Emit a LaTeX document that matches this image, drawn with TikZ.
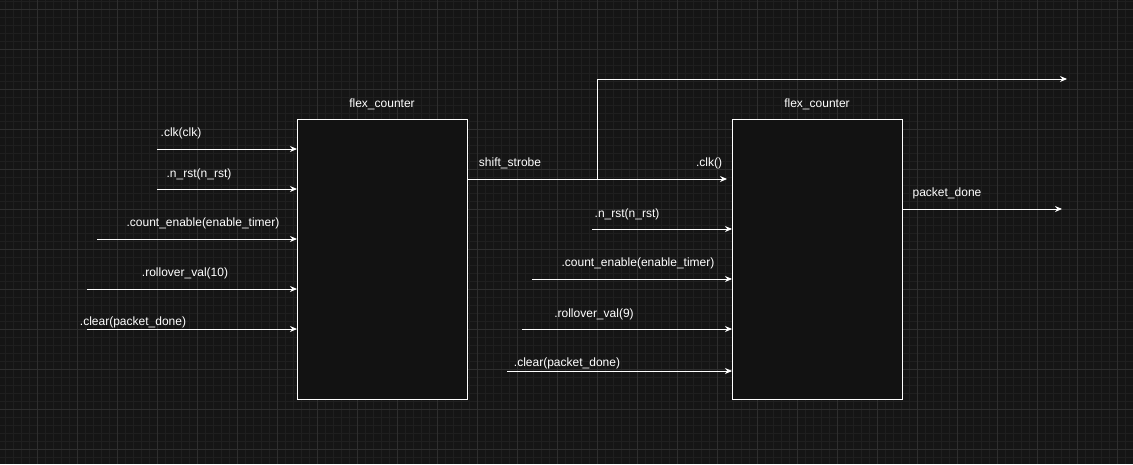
\documentclass[tikz,border=0pt]{standalone}
\usepackage{fontspec}
\setmainfont{Liberation Sans}
\usetikzlibrary{arrows.meta}
\definecolor{bg}{HTML}{151515}
\definecolor{minor}{HTML}{1F1F1F}
\definecolor{major}{HTML}{2E2E2E}
\definecolor{boxfill}{HTML}{121212}
\begin{document}
\begin{tikzpicture}[x=1pt,y=-1pt,
  wire/.style={draw=white,line width=0.9pt,-{Stealth[length=7pt,width=6pt]}},
  blk/.style={draw=white,fill=boxfill,line width=0.9pt},
  lbl/.style={text=white,font=\fontsize{12}{14}\selectfont,inner sep=0pt}]
\fill[bg] (0,0) rectangle (1133,464);
\useasboundingbox (0,0) rectangle (1133,464);
\foreach \x in {5,13,...,1133} \draw[minor,line width=0.5pt] (\x,0) -- (\x,464);
\foreach \y in {1,9,...,464} \draw[minor,line width=0.5pt] (0,\y) -- (1133,\y);
\foreach \x in {-3,37,...,1133} \draw[major,line width=0.8pt] (\x,0) -- (\x,464);
\foreach \y in {9,49,...,464} \draw[major,line width=0.8pt] (0,\y) -- (1133,\y);
\draw[major,dashed,line width=0.8pt] (397,0) -- (397,464);

\node[blk,minimum width=170pt,minimum height=280pt,anchor=north west] (b1) at (297,119) {};
\node[blk,minimum width=170pt,minimum height=280pt,anchor=north west] (b2) at (732,119) {};
\node[lbl] (t1) at (382,104) {flex\_counter};
\node[lbl] (t2) at (817,104) {flex\_counter};

% box 1 inputs
\coordinate (a1) at (157,149); \coordinate (a1e) at (297,149);
\coordinate (a2) at (157,189); \coordinate (a2e) at (297,189);
\coordinate (a3) at (97,239);  \coordinate (a3e) at (297,239);
\coordinate (a4) at (87,289);  \coordinate (a4e) at (297,289);
\coordinate (a5) at (87,329);  \coordinate (a5e) at (297,329);
\draw[wire] (a1) -- (a1e); \draw[wire] (a2) -- (a2e); \draw[wire] (a3) -- (a3e);
\draw[wire] (a4) -- (a4e); \draw[wire] (a5) -- (a5e);
\node[lbl] (l1) at (181,133) {.clk(clk)};
\node[lbl] (l2) at (199,174) {.n\_rst(n\_rst)};
\node[lbl] (l3) at (203,223) {.count\_enable(enable\_timer)};
\node[lbl] (l4) at (185,273) {.rollover\_val(10)};
\node[lbl] (l5) at (133,322) {.clear(packet\_done)};

% shift strobe
\coordinate (s0) at (467,179); \coordinate (sb) at (597,179);
\coordinate (sc) at (727,179); \coordinate (su) at (597,79);
\coordinate (se) at (1067,79);
\draw[wire] (s0) -- (sc);
\draw[wire] (sb) -- (su) -- (se);
\node[lbl] (ls) at (510,163) {shift\_strobe};
\node[lbl] (lc) at (709,163) {.clk()};

% box 2 inputs
\coordinate (c2) at (592,229); \coordinate (c2e) at (732,229);
\coordinate (c3) at (532,279); \coordinate (c3e) at (732,279);
\coordinate (c4) at (522,329); \coordinate (c4e) at (732,329);
\coordinate (c5) at (507,371); \coordinate (c5e) at (732,371);
\draw[wire] (c2) -- (c2e); \draw[wire] (c3) -- (c3e);
\draw[wire] (c4) -- (c4e); \draw[wire] (c5) -- (c5e);
\node[lbl] (m2) at (627,214) {.n\_rst(n\_rst)};
\node[lbl] (m3) at (638,263) {.count\_enable(enable\_timer)};
\node[lbl] (m4) at (594,314) {.rollover\_val(9)};
\node[lbl] (m5) at (567,363) {.clear(packet\_done)};

% output
\coordinate (o0) at (902,209); \coordinate (o1) at (1062,209);
\draw[wire] (o0) -- (o1);
\node[lbl] (lo) at (947,193) {packet\_done};
\end{tikzpicture}
\end{document}
